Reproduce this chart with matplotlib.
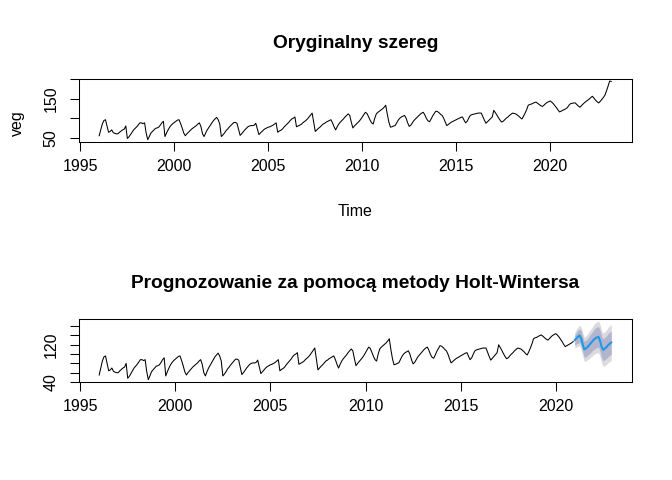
import matplotlib
matplotlib.use("Agg")
import matplotlib.pyplot as plt
import numpy as np

plt.rcParams['font.family'] = ['Liberation Sans', 'DejaVu Sans']

# ---- data (monthly, Jan 1996 .. Apr 2023) ----
y1996 = [55, 70, 85, 94, 96, 80, 64, 66, 70, 63, 61, 60]
y1997 = [60, 64, 67, 70, 72, 80, 48, 52, 58, 64, 70, 74]
y1998 = [78, 83, 88, 88, 86, 88, 62, 45, 53, 62, 66, 70]
y1999 = [74, 75, 77, 82, 88, 92, 53, 62, 70, 77, 82, 86]
y2000 = [89, 92, 95, 96, 86, 75, 62, 55, 60, 64, 68, 72]
y2001 = [75, 78, 81, 85, 88, 78, 60, 53, 62, 70, 76, 82]
y2002 = [88, 94, 98, 102, 96, 85, 53, 57, 62, 68, 72, 77]
y2003 = [81, 85, 89, 89, 87, 72, 56, 60, 65, 70, 74, 78]
y2004 = [80, 81, 81, 82, 87, 72, 58, 62, 66, 70, 73, 75]
y2005 = [77, 78, 80, 82, 85, 88, 64, 67, 69, 72, 77, 81]
y2006 = [85, 89, 94, 98, 100, 103, 78, 80, 82, 84, 88, 91]
y2007 = [94, 98, 103, 108, 113, 90, 66, 70, 74, 77, 81, 85]
y2008 = [87, 90, 92, 94, 96, 88, 78, 70, 78, 85, 90, 94]
y2009 = [98, 103, 107, 111, 107, 90, 75, 80, 84, 88, 92, 97]
y2010 = [103, 109, 115, 112, 104, 95, 88, 85, 100, 111, 115, 118]
y2011 = [121, 124, 128, 133, 110, 90, 77, 78, 80, 81, 88, 95]
y2012 = [100, 103, 105, 107, 100, 88, 79, 82, 88, 94, 98, 102]
y2013 = [106, 110, 113, 115, 108, 99, 93, 91, 98, 106, 112, 118]
y2014 = [117, 114, 110, 107, 100, 90, 81, 84, 87, 90, 92, 94]
y2015 = [96, 98, 100, 102, 103, 95, 88, 92, 100, 107, 109, 110]
y2016 = [111, 112, 113, 113, 113, 104, 95, 87, 91, 95, 99, 103]
y2017 = [120, 114, 108, 101, 95, 90, 92, 96, 100, 103, 107, 110]
y2018 = [113, 112, 111, 108, 105, 101, 98, 105, 113, 122, 133, 135]
y2019 = [136, 138, 140, 141, 138, 135, 132, 130, 133, 137, 140, 142]
y2020 = [144, 141, 137, 132, 127, 121, 116, 118, 120, 122, 124, 127]
y2021 = [133, 137, 138, 139, 139, 135, 131, 128, 132, 136, 140, 143]
y2022 = [146, 149, 153, 156, 151, 146, 142, 139, 143, 148, 153, 159]
y2023 = [170, 182, 195, 194]

veg = np.array(y1996 + y1997 + y1998 + y1999 + y2000 + y2001 + y2002 + y2003 +
               y2004 + y2005 + y2006 + y2007 + y2008 + y2009 + y2010 + y2011 +
               y2012 + y2013 + y2014 + y2015 + y2016 + y2017 + y2018 + y2019 +
               y2020 + y2021 + y2022 + y2023, dtype=float)
start_year = 1996
freq = 12
train_end_index = 300   # training data through Dec 2020

# Holt-Winters forecast Jan 2021 .. Dec 2022
fc_mean = [130, 134, 137, 140, 134, 121, 110, 112, 115, 119, 123, 127,
           131, 134, 136, 137, 128, 115, 109, 112, 115, 119, 122, 125]
fc_lo80 = [119, 122, 123, 126, 118, 105, 93, 94, 97, 100, 103, 107,
           110, 112, 114, 115, 105, 92, 85, 88, 91, 94, 97, 100]
fc_hi80 = [141, 146, 151, 154, 150, 137, 127, 130, 133, 138, 143, 147,
           152, 156, 158, 159, 151, 138, 133, 136, 139, 144, 147, 150]
fc_lo95 = [113, 115, 116, 118, 110, 96, 84, 85, 87, 90, 93, 96,
           99, 101, 102, 103, 93, 80, 73, 75, 78, 81, 84, 86]
fc_hi95 = [147, 153, 158, 162, 158, 146, 136, 139, 143, 148, 153, 158,
           163, 167, 170, 171, 163, 150, 145, 149, 152, 157, 160, 164]
fc_start = 2021

x_ticks = [1995, 2000, 2005, 2010, 2015, 2020]
top_yticks = [50, 100, 150, 200]
top_ylabels = ['50', '', '150', '']
bot_yticks = [40, 60, 80, 100, 120, 140, 160]
bot_ylabels = ['40', '', '', '', '120', '', '']

# ---- figure ----
W, H = 672, 480
fig = plt.figure(figsize=(W / 100, H / 100), dpi=100)


def add_ax(l, t, r, b):
    return fig.add_axes([l / W, 1 - b / H, (r - l) / W, (b - t) / H])


def style(ax, yticks, ylabels):
    ax.margins(x=0.04, y=0.04)
    ax.autoscale_view()
    lo, hi = ax.get_ylim()
    yt = [(v, s) for v, s in zip(yticks, ylabels) if lo <= v <= hi]
    ax.set_yticks([v for v, _ in yt])
    ax.set_yticklabels([s for _, s in yt])
    ax.set_xticks(x_ticks)
    ax.set_xticklabels([str(v) for v in x_ticks])
    for sp in ax.spines.values():
        sp.set_linewidth(0.75)
        sp.set_color('black')
    ax.tick_params(axis='both', direction='out', length=6.5, width=0.75,
                   labelsize=11.5, colors='black')
    ax.tick_params(axis='x', pad=6)
    ax.tick_params(axis='y', pad=8, labelrotation=90)
    for lab in ax.get_yticklabels():
        lab.set_va('center')


t_all = start_year + np.arange(len(veg)) / freq
ax1 = add_ax(78.7, 78.7, 631.7, 142)
ax1.plot(t_all, veg, color='black', lw=0.75)
style(ax1, top_yticks, top_ylabels)

ax2 = add_ax(78.7, 318.7, 631.7, 382)
t_fc = fc_start + np.arange(len(fc_mean)) / freq
ax2.plot(t_all[:train_end_index], veg[:train_end_index], color='black', lw=0.75)
ax2.fill_between(t_fc, fc_lo95, fc_hi95, color='#DBDBDF', lw=0)
ax2.fill_between(t_fc, fc_lo80, fc_hi80, color='#B1B5CE', lw=0)
ax2.plot(t_fc, fc_mean, color='#2297E6', lw=1.5)
style(ax2, bot_yticks, bot_ylabels)

fig.text(355.2 / W, 1 - 48.5 / H, 'Oryginalny szereg', ha='center',
         va='baseline', fontsize=13.8, fontweight='bold')
fig.text(355.2 / W, 1 - 288.5 / H, 'Prognozowanie za pomocą metody Holt-Wintersa',
         ha='center', va='baseline', fontsize=13.8, fontweight='bold')
fig.text(355.2 / W, 1 - 215.5 / H, 'Time', ha='center', va='baseline', fontsize=11.5)
fig.text(17 / W, 1 - 110.4 / H, 'veg', ha='right', va='center', rotation=90,
         fontsize=11.5, rotation_mode='anchor')

fig.savefig('out.png', dpi=100)
